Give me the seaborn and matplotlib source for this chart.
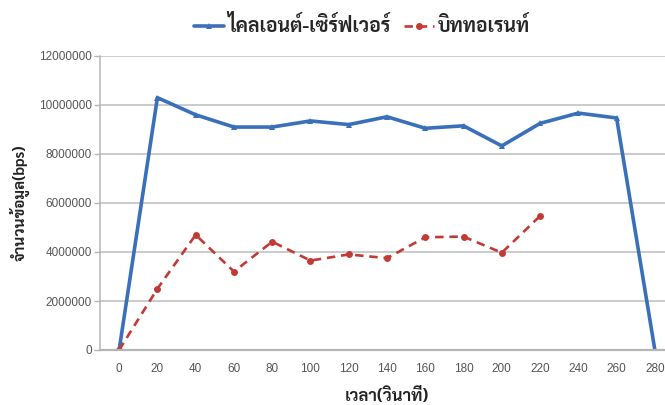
import matplotlib
matplotlib.use("Agg")
import matplotlib.pyplot as plt
import seaborn as sns
import pandas as pd

# Time axis (seconds) and measured throughput (bps)
time_client = [0, 20, 40, 60, 80, 100, 120, 140, 160, 180, 200, 220, 240, 260, 280]
client_server = [0, 10300000, 9600000, 9100000, 9100000, 9350000, 9200000, 9520000,
                 9050000, 9150000, 8330000, 9250000, 9670000, 9470000, 0]
time_torrent = [0, 20, 40, 60, 80, 100, 120, 140, 160, 180, 200, 220]
bittorrent = [0, 2500000, 4700000, 3200000, 4420000, 3650000, 3900000, 3750000,
              4600000, 4630000, 3970000, 5470000]
x_ticks = list(range(0, 281, 20))
y_ticks = list(range(0, 12000001, 2000000))

label_client = "ไคลเอนต์-เซิร์ฟเวอร์"
label_torrent = "บิททอเรนท์"
x_title = "เวลา(วินาที)"
y_title = "จำนวนข้อมูล(bps)"

sns.set_theme(style="white")
plt.rcParams["font.family"] = ["Liberation Sans", "DejaVu Sans"]
thai_font = ["Sarabun", "Liberation Serif", "DejaVu Serif"]

df_client = pd.DataFrame({"t": time_client, "v": client_server})
df_torrent = pd.DataFrame({"t": time_torrent, "v": bittorrent})

fig = plt.figure(figsize=(6.65, 4.05), dpi=100)
ax = fig.add_axes([100 / 665, 55 / 405, 574 / 665, 294 / 405])

blue = "#3a6fba"
red = "#c23a35"
sns.lineplot(data=df_client, x="t", y="v", ax=ax, color=blue, linewidth=2.6,
             marker="^", markersize=4.5, markeredgewidth=0, label=label_client)
sns.lineplot(data=df_torrent, x="t", y="v", ax=ax, color=red, linewidth=1.9,
             linestyle=(0, (3.2, 2.2)), marker="o", markersize=5,
             markeredgewidth=0, label=label_torrent)

ax.set_xlim(-10, 290)
ax.set_ylim(0, 12000000)
ax.set_xticks(x_ticks)
ax.set_yticks(y_ticks)
ax.set_xticklabels([str(v) for v in x_ticks])
ax.set_yticklabels([str(v) for v in y_ticks])
ax.yaxis.grid(True, color="#bdbdbd", linewidth=1.1)
ax.xaxis.grid(False)
for side in ("top", "right"):
    ax.spines[side].set_visible(False)
for side in ("left", "bottom"):
    ax.spines[side].set_color("#b5b5b5")
    ax.spines[side].set_linewidth(1.1)
ax.spines["bottom"].set_linewidth(1.6)
ax.tick_params(axis="y", length=4, width=1, color="#b5b5b5", labelsize=8.5,
               labelcolor="#555555", pad=2, left=True)
ax.tick_params(axis="x", length=0, labelsize=8.5, labelcolor="#555555", pad=9)

ax.set_xlabel(x_title, fontsize=12, fontweight="bold", family=thai_font,
              color="#222222", labelpad=10)
ax.set_ylabel(y_title, fontsize=11, fontweight="bold", family=thai_font,
              color="#222222")
ax.yaxis.set_label_coords(-0.122, 0.5)

ax.legend(loc="upper center", bbox_to_anchor=(362 / 665, 1.005), bbox_transform=fig.transFigure,
          ncol=2, frameon=False, handlelength=1.5, handletextpad=0.2, columnspacing=0.7,
          prop={"family": thai_font, "weight": "bold", "size": 14})

fig.savefig("out.png", dpi=100)
